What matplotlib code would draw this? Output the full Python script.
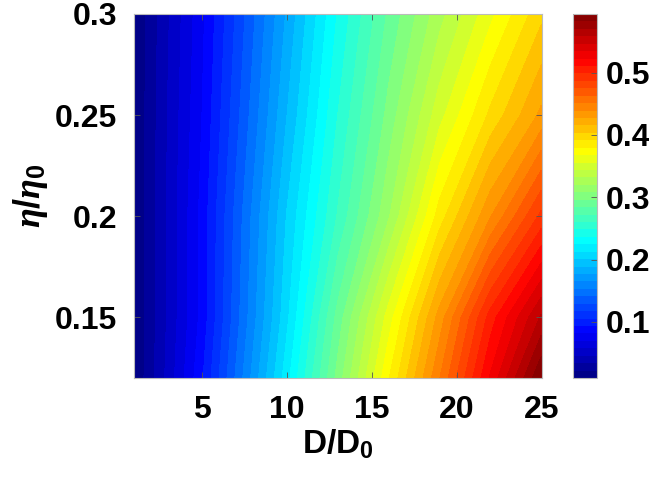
import numpy as np
import matplotlib.pyplot as plt
from matplotlib.colors import LinearSegmentedColormap
from matplotlib.ticker import FormatStrFormatter

plt.rcParams['font.family'] = ['Liberation Sans', 'DejaVu Sans']
plt.rcParams['font.weight'] = 'bold'
plt.rcParams['mathtext.fontset'] = 'custom'
plt.rcParams['mathtext.rm'] = 'Liberation Sans:bold'
plt.rcParams['mathtext.bf'] = 'Liberation Sans:bold'
plt.rcParams['mathtext.it'] = 'Liberation Serif:italic'

# D/D0 grid and eta/eta0 grid
d_ratio = [1, 3, 5, 7, 10, 13, 16, 19, 22, 25]
eta_ratio = [0.12, 0.15, 0.2, 0.25, 0.3]

val_012 = [0.010, 0.049, 0.091, 0.142, 0.219, 0.300, 0.378, 0.450, 0.524, 0.594]
val_015 = [0.010, 0.047, 0.085, 0.135, 0.209, 0.288, 0.361, 0.432, 0.504, 0.560]
val_020 = [0.010, 0.047, 0.085, 0.132, 0.201, 0.261, 0.318, 0.385, 0.438, 0.490]
val_025 = [0.010, 0.046, 0.081, 0.124, 0.188, 0.248, 0.300, 0.351, 0.394, 0.430]
val_030 = [0.010, 0.044, 0.078, 0.118, 0.178, 0.237, 0.286, 0.327, 0.364, 0.400]

xticks = [5, 10, 15, 20, 25]
yticks = [0.15, 0.2, 0.25, 0.3]
cticks = [0.1, 0.2, 0.3, 0.4, 0.5]

# matlab style jet
jet_m = LinearSegmentedColormap.from_list('jet_m', [
    (0.0, (0, 0, 0.5)), (0.125, (0, 0, 1)), (0.375, (0, 1, 1)),
    (0.625, (1, 1, 0)), (0.875, (1, 0, 0)), (1.0, (0.5, 0, 0))])

Z = np.array([val_012, val_015, val_020, val_025, val_030])
X, Y = np.meshgrid(d_ratio, eta_ratio)

fig = plt.figure(figsize=(6.49, 4.87), dpi=100)
ax = fig.add_axes([0.2065, 0.2238, 0.628, 0.7475])
cax = fig.add_axes([0.883, 0.2238, 0.037, 0.7475])

levels = np.linspace(Z.min(), Z.max(), 50)
cs = ax.contourf(X, Y, Z, levels=levels, cmap=jet_m, antialiased=False)
cs.set_edgecolor('face')
cs.set_linewidth(0.6)

ax.set_xlim(1, 25)
ax.set_ylim(0.12, 0.3)
ax.set_xticks(xticks)
ax.set_yticks(yticks)
ax.yaxis.set_major_formatter(FormatStrFormatter('%g'))
ax.tick_params(direction='in', length=4, width=0.6, color='#555555',
               labelsize=23, pad=12, top=True, right=True)
for s in ax.spines.values():
    s.set_color('#bbbbbb')
    s.set_linewidth(0.8)

ax.set_xlabel(r'$\mathbf{D/D_0}$', fontsize=24, labelpad=2)
ax.set_ylabel(r'$\eta/\eta_0$', fontsize=26, labelpad=4)

cb = fig.colorbar(cs, cax=cax, ticks=cticks)
cb.ax.yaxis.set_major_formatter(FormatStrFormatter('%g'))
cb.ax.tick_params(direction='in', length=4, width=0.6, color='#555555',
                  labelsize=23, pad=6)
cb.outline.set_edgecolor('#bbbbbb')
cb.outline.set_linewidth(0.8)

fig.savefig('out.png', dpi=100)
